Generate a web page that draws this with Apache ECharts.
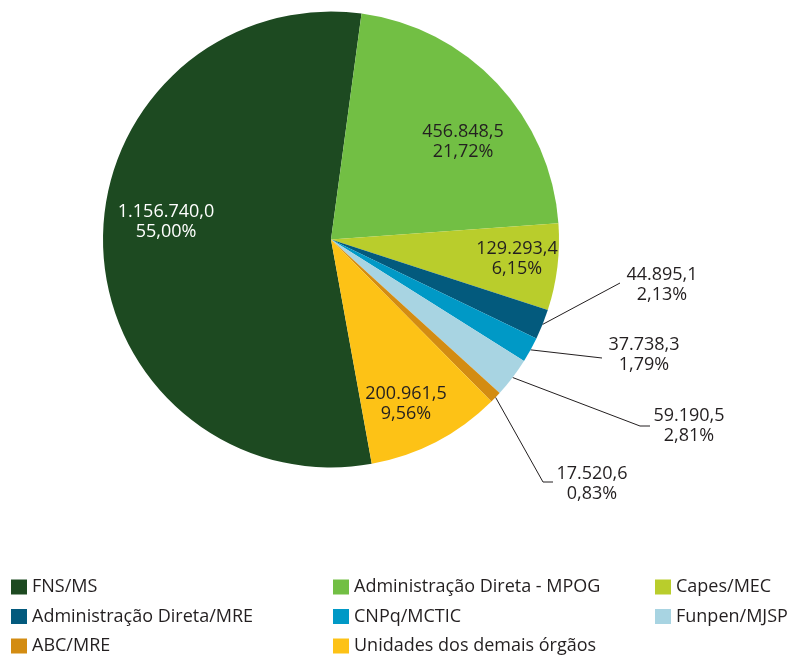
<!DOCTYPE html>
<html>
<head>
<meta charset="utf-8">
<script src="https://cdn.jsdelivr.net/npm/echarts@6/dist/echarts.min.js"></script>
<style>
html,body{margin:0;padding:0;background:#fff;}
#chart{width:791px;height:656px;}
</style>
</head>
<body>
<div id="chart"></div>
<script>
// ---- Data (R$ mil) ----
const categories = [
  'FNS/MS',
  'Administração Direta - MPOG',
  'Capes/MEC',
  'Administração Direta/MRE',
  'CNPq/MCTIC',
  'Funpen/MJSP',
  'ABC/MRE',
  'Unidades dos demais órgãos'
];
const values = [1156740.0, 456848.5, 129293.4, 44895.1, 37738.3, 59190.5, 17520.6, 200961.5];

// ---- Styles ----
const colors = ['#1d4a21', '#72bf44', '#b9cd2c', '#035a7d', '#0099c6', '#a8d4e2', '#d38c12', '#fdc216'];
const labelColors = ['#ffffff', '#231f20', '#231f20', '#231f20', '#231f20', '#231f20', '#231f20', '#231f20'];
const outsideIdx = [3, 4, 5, 6];
// label centres and leader-line bends (pixel layout)
const labelPos = {
  0: [166, 222],
  1: [463, 142],
  2: [517, 259],
  3: [662, 285],
  4: [644, 355],
  5: [689, 426],
  6: [592, 484],
  7: [406, 404]
};
const linePts = {
  3: [[620, 283], [620, 283]],
  4: [[602, 358], [602, 358]],
  5: [[640, 426], [650, 426]],
  6: [[543, 482], [553, 482]]
};

const total = values.reduce((a, b) => a + b, 0);
function fmtNum(v) {
  const parts = v.toFixed(1).split('.');
  const int = parts[0].replace(/\B(?=(\d{3})+(?!\d))/g, '.');
  return int + ',' + parts[1];
}
function fmtPct(v) {
  return (v / total * 100).toFixed(2).replace('.', ',') + '%';
}

const FONT = "'Open Sans', 'Noto Sans', sans-serif";

const data = categories.map((name, i) => {
  const isOut = outsideIdx.includes(i);
  return {
    name: name,
    value: values[i],
    itemStyle: { color: colors[i] },
    label: {
      show: true,
      position: isOut ? 'outside' : 'inside',
      color: labelColors[i]
    },
    labelLine: { show: isOut }
  };
});

const chart = echarts.init(document.getElementById('chart'), null, { renderer: 'canvas' });

function legendFor(names, left) {
  return {
    type: 'plain',
    orient: 'vertical',
    left: left,
    top: 578,
    height: 120,
    padding: 0,
    itemWidth: 16,
    itemHeight: 15,
    itemGap: 11.5,
    icon: 'rect',
    selectedMode: false,
    data: names,
    textStyle: { fontFamily: FONT, fontSize: 18, color: '#231f20' }
  };
}

chart.setOption({
  animation: false,
  backgroundColor: '#ffffff',
  legend: [
    legendFor([categories[0], categories[3], categories[6]], 11),
    legendFor([categories[1], categories[4], categories[7]], 333),
    legendFor([categories[2], categories[5]], 655)
  ],
  series: [{
    type: 'pie',
    center: [331, 239.5],
    radius: [0, 228],
    startAngle: 280.3,
    clockwise: true,
    avoidLabelOverlap: false,
    itemStyle: { borderWidth: 0 },
    label: {
      fontFamily: FONT,
      fontSize: 18,
      lineHeight: 20,
      align: 'center',
      formatter: function (p) {
        return fmtNum(p.value) + '\n' + fmtPct(p.value);
      }
    },
    labelLine: {
      lineStyle: { color: '#231f20', width: 1 }
    },
    labelLayout: function (params) {
      const i = params.dataIndex;
      const pos = labelPos[i];
      const res = { x: pos[0], y: pos[1], align: 'center', verticalAlign: 'middle' };
      if (linePts[i] && params.labelLinePoints) {
        res.labelLinePoints = [params.labelLinePoints[0], linePts[i][0], linePts[i][1]];
      }
      return res;
    },
    data: data
  }]
});
</script>
</body>
</html>
